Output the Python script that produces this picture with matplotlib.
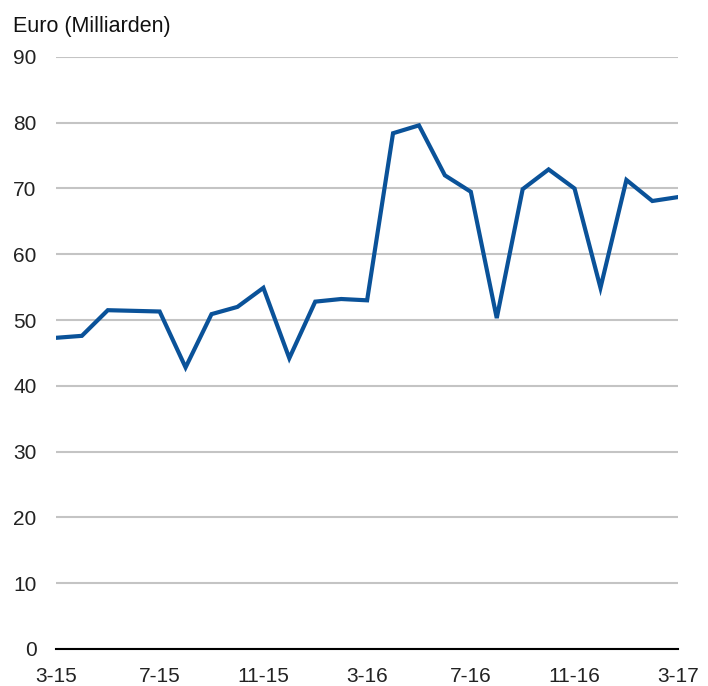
import matplotlib.pyplot as plt
from matplotlib import font_manager

monate = ['3-15', '4-15', '5-15', '6-15', '7-15', '8-15', '9-15', '10-15',
          '11-15', '12-15', '1-16', '2-16', '3-16', '4-16', '5-16', '6-16',
          '7-16', '8-16', '9-16', '10-16', '11-16', '12-16', '1-17', '2-17',
          '3-17']
werte = [47.3, 47.6, 51.5, 51.4, 51.3, 42.8, 50.9, 52.0, 54.9, 44.2,
         52.8, 53.2, 53.0, 78.4, 79.6, 72.0, 69.5, 50.3, 69.9, 72.9,
         70.0, 54.9, 71.3, 68.1, 68.7]
y_ticks = [0, 10, 20, 30, 40, 50, 60, 70, 80, 90]

namen = {f.name for f in font_manager.fontManager.ttflist}
schmal = 'Liberation Sans Narrow' if 'Liberation Sans Narrow' in namen else 'Liberation Sans'

fig = plt.figure(figsize=(7.08, 6.86), dpi=100)
ax = fig.add_axes([0.079, 0.054, 0.879, 0.863])

x = list(range(len(werte)))
ax.plot(x, werte, color='#0a5299', linewidth=3, solid_joinstyle='miter', zorder=3)

ax.set_xlim(0, len(werte) - 1)
ax.set_ylim(0, 90)
ax.set_yticks(y_ticks)
ax.set_xticks(x[::4])
ax.set_xticklabels(monate[::4])
ax.yaxis.grid(True, color='#c4c4c4', linewidth=1.5)
ax.set_axisbelow(True)

for s in ['left', 'right', 'top']:
    ax.spines[s].set_visible(False)
ax.spines['bottom'].set_color('black')
ax.spines['bottom'].set_linewidth(1.5)
ax.spines['bottom'].set_zorder(4)

ax.tick_params(axis='both', length=0, labelsize=15, colors='#222222')
ax.tick_params(axis='y', pad=14)
ax.tick_params(axis='x', pad=13)
for lab in ax.get_xticklabels() + ax.get_yticklabels():
    lab.set_fontfamily(schmal)

fig.text(0.018, 0.962, 'Euro (Milliarden)', fontsize=15.5, family='Liberation Sans',
         color='#111111', va='center', ha='left')

plt.savefig('out.png', dpi=100)
